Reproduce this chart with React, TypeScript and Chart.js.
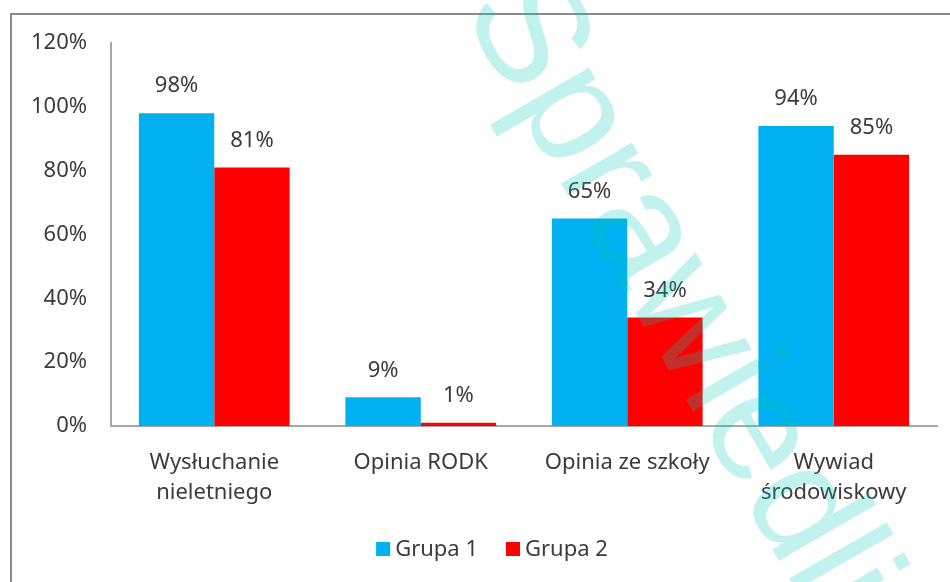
import React, { useEffect, useRef } from "react";
import { Chart, registerables } from "chart.js";

Chart.register(...registerables);

const categories: (string | string[])[] = [
  ["Wysłuchanie", "nieletniego"],
  "Opinia RODK",
  "Opinia ze szkoły",
  ["Wywiad", "środowiskowy"],
];
const seriesNames = ["Grupa 1", "Grupa 2"];
const grupa1 = [98, 9, 65, 94];
const grupa2 = [81, 1, 34, 85];
const seriesColors = ["#00B0F0", "#FF0000"];
const yTicks = [0, 20, 40, 60, 80, 100, 120];
const watermarkText = "Sprawiedliwość";

const FONT = "'Noto Sans', sans-serif";
const TEXT_COLOR = "#3b3b3b";

const framePlugin = {
  id: "frame",
  beforeDraw(chart: any) {
    const { ctx } = chart;
    ctx.save();
    ctx.strokeStyle = "#8a8a8a";
    ctx.lineWidth = 2;
    ctx.beginPath();
    ctx.moveTo(11, chart.height + 5);
    ctx.lineTo(11, 14);
    ctx.lineTo(chart.width + 5, 14);
    ctx.stroke();
    ctx.restore();
  },
};

const valueLabelPlugin = {
  id: "valueLabels",
  afterDatasetsDraw(chart: any) {
    const { ctx } = chart;
    ctx.save();
    ctx.font = `22px ${FONT}`;
    ctx.fillStyle = TEXT_COLOR;
    ctx.textAlign = "center";
    ctx.textBaseline = "middle";
    chart.data.datasets.forEach((ds: any, di: number) => {
      const meta = chart.getDatasetMeta(di);
      meta.data.forEach((bar: any, i: number) => {
        ctx.fillText(`${ds.data[i]}%`, bar.x, bar.y - 27);
      });
    });
    ctx.restore();
  },
};

const legendPlugin = {
  id: "customLegend",
  afterDraw(chart: any) {
    const { ctx } = chart;
    ctx.save();
    ctx.font = `22px ${FONT}`;
    ctx.textBaseline = "middle";
    ctx.textAlign = "left";
    const box = 14;
    const gap = 5;
    const itemGap = 28;
    const items = chart.data.datasets.map((ds: any) => ({
      label: ds.label,
      color: ds.backgroundColor,
      w: box + gap + ctx.measureText(ds.label).width,
    }));
    const total = items.reduce((s: number, it: any) => s + it.w, 0) + itemGap * (items.length - 1);
    let x = 492 - total / 2;
    const cy = 549;
    items.forEach((it: any) => {
      ctx.fillStyle = it.color;
      ctx.fillRect(x, cy - box / 2, box, box);
      ctx.fillStyle = TEXT_COLOR;
      ctx.fillText(it.label, x + box + gap, cy + 1);
      x += it.w + itemGap;
    });
    ctx.restore();
  },
};

const watermarkPlugin = {
  id: "watermark",
  afterDraw(chart: any) {
    const { ctx } = chart;
    ctx.save();
    ctx.translate(461, 10);
    ctx.rotate((60 * Math.PI) / 180);
    ctx.font = `155px 'Liberation Sans', sans-serif`;
    ctx.fillStyle = "rgba(0, 200, 180, 0.24)";
    ctx.textAlign = "left";
    ctx.textBaseline = "alphabetic";
    ctx.fillText(watermarkText, 0, 0);
    ctx.restore();
  },
};

export default function App() {
  const canvasRef = useRef<HTMLCanvasElement | null>(null);

  useEffect(() => {
    if (!canvasRef.current) return;
    const chart = new Chart(canvasRef.current, {
      type: "bar",
      data: {
        labels: categories,
        datasets: [
          { label: seriesNames[0], data: grupa1, backgroundColor: seriesColors[0] },
          { label: seriesNames[1], data: grupa2, backgroundColor: seriesColors[1] },
        ],
      },
      options: {
        animation: false,
        responsive: false,
        maintainAspectRatio: false,
        layout: { padding: { left: 0, right: 13, top: 43, bottom: 0 } },
        datasets: {
          bar: { barPercentage: 1, categoryPercentage: 0.73 },
        },
        plugins: {
          legend: { display: false },
          tooltip: { enabled: false },
        },
        scales: {
          x: {
            grid: { display: false, drawTicks: false },
            border: { display: true, color: "#a6a6a6", width: 2 },
            ticks: {
              font: { family: FONT, size: 22, lineHeight: 1.36 },
              color: TEXT_COLOR,
              padding: 22,
              maxRotation: 0,
              autoSkip: false,
            },
            afterFit(scale: any) {
              scale.height = 156;
            },
          },
          y: {
            min: 0,
            max: 120,
            grid: { display: false, drawTicks: false },
            border: { display: true, color: "#a6a6a6", width: 2 },
            afterBuildTicks(scale: any) {
              scale.ticks = yTicks.map((v) => ({ value: v }));
            },
            ticks: {
              font: { family: FONT, size: 22 },
              color: TEXT_COLOR,
              padding: 24,
              callback: (v: any) => `${v}%`,
            },
            afterFit(scale: any) {
              scale.width = 111;
            },
          },
        },
      },
      plugins: [framePlugin, valueLabelPlugin, legendPlugin, watermarkPlugin],
    });
    return () => chart.destroy();
  }, []);

  return (
    <div style={{ position: "fixed", left: 0, top: 0, width: 950, height: 582, background: "#fff" }}>
      <canvas ref={canvasRef} width={950} height={582} style={{ display: "block" }} />
    </div>
  );
}
